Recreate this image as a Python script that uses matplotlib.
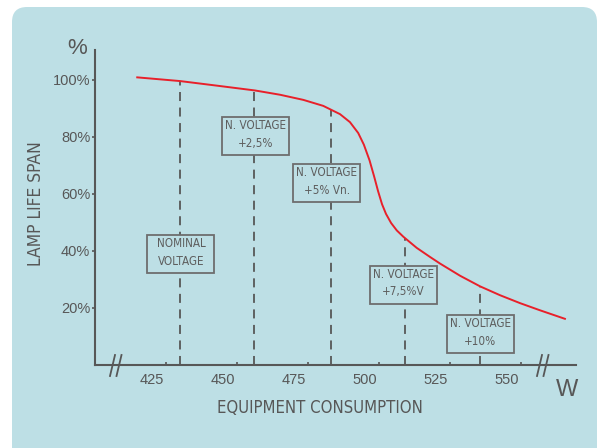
import numpy as np
import matplotlib
matplotlib.use("Agg")
import matplotlib.pyplot as plt
from matplotlib.patches import FancyBboxPatch, Rectangle

# ---- data ----
curve_w = [419.8, 434.9, 447.8, 461.3, 470.1, 478.3, 485.3, 491.2, 494.7, 497.6,
           499.6, 501.6, 503.2, 504.6, 506.0, 507.4, 509.2, 511.2, 513.5, 518.2,
           522.9, 526.4, 533.5, 540.5, 547.5, 554.6, 561.6, 570.4]
curve_life = [100.9, 99.6, 98.0, 96.3, 94.8, 93.0, 90.9, 88.0, 85.2, 81.4,
              77.3, 71.8, 66.2, 61.0, 56.4, 53.0, 49.8, 47.2, 45.0, 41.1,
              37.9, 35.6, 31.3, 27.6, 24.5, 21.7, 19.2, 16.2]
marker_w = [435, 461, 488, 514, 540.5]
box_labels = ["NOMINAL\nVOLTAGE", "N. VOLTAGE\n+2,5%", "N. VOLTAGE\n+5% Vn.",
              "N. VOLTAGE\n+7,5%V", "N. VOLTAGE\n+10%"]
box_x = [435.2, 461.4, 486.6, 513.4, 540.5]
box_y = [38.9, 80.4, 63.9, 28.2, 10.9]
xtick_vals = [425, 450, 475, 500, 525, 550]
xminor_vals = [430, 455, 480, 505, 530, 555]
ytick_vals = [20, 40, 60, 80, 100]

REG = ["Liberation Sans", "DejaVu Sans"]
NAR = ["Liberation Sans Narrow", "DejaVu Sans"]

BG = "#bddfe5"
GRAY = "#575757"
TXT2 = "#5e5e5e"
EDGE = "#6e6e6e"
RED = "#e8202a"

W, H = 602, 448
fig = plt.figure(figsize=(W / 100, H / 100), dpi=100)
fig.patch.set_facecolor("white")

panel = FancyBboxPatch((12 / W, -0.05), (597 - 12) / W, (448 - 7) / H + 0.05,
                       boxstyle="round,pad=0,rounding_size=0.025",
                       transform=fig.transFigure, facecolor=BG, edgecolor="none",
                       mutation_aspect=W / H, zorder=-10)
fig.patches.append(panel)

ax = fig.add_axes([95 / W, (H - 365) / H, (576 - 95) / W, 315 / H])
ax.set_zorder(1)
ax.set_facecolor("none")
ax.set_xlim(404.93, 574.3)
ax.set_ylim(0, 110.5)
for s in ["top", "right"]:
    ax.spines[s].set_visible(False)
for s in ["left", "bottom"]:
    ax.spines[s].set_color(GRAY)
    ax.spines[s].set_linewidth(1.5)

ax.set_xticks(xtick_vals)
ax.set_xticklabels([str(v) for v in xtick_vals], family=REG, fontsize=10.5, color=GRAY)
ax.tick_params(axis="x", which="major", length=0, pad=6)
ax.set_xticks(xminor_vals, minor=True)
ax.tick_params(axis="x", which="minor", direction="in", length=2.5, width=1.2, color=GRAY)

ax.set_yticks(ytick_vals)
ax.set_yticklabels([f"{v}%" for v in ytick_vals], family=REG, fontsize=10.5, color=GRAY)
ax.tick_params(axis="y", length=2, width=1.2, color=GRAY, pad=1.5)

# dashed voltage markers
for xv in marker_w:
    top = np.interp(xv, curve_w, curve_life)
    ax.plot([xv, xv], [0, top], color=GRAY, lw=1.3, ls=(0, (5, 3.6)), zorder=2)

ax.plot(curve_w, curve_life, color=RED, lw=1.4, zorder=4, solid_joinstyle="round")

# label boxes: 67 x 38 px
bw = 67 / 2.84
bh = 38 * 0.35088
for xv, yv, lab in zip(box_x, box_y, box_labels):
    ax.add_patch(Rectangle((xv - bw / 2, yv - bh / 2), bw, bh, facecolor=BG,
                           edgecolor=EDGE, lw=1.3, zorder=5))
    ax.text(xv, yv + 0.5, lab, ha="center", va="center", fontsize=8.4, color=TXT2,
            family=NAR, fontstretch="condensed", linespacing=1.45, zorder=6)

# axis break marks
t = fig.transFigure
for px in (110, 537):
    for dx in (0, 6.5):
        x0 = px + dx
        fig.add_artist(plt.Line2D([x0 / W, (x0 + 5) / W], [(H - 376) / H, (H - 355) / H],
                                  transform=t, color=GRAY, lw=1.3, zorder=5))

fig.text(77 / W, 1 - 48 / H, "%", ha="center", va="center", fontsize=16, color=GRAY, family=REG)
fig.text(567 / W, 1 - 390 / H, "W", ha="center", va="center", fontsize=17, color=GRAY, family=REG)
fig.text(36 / W, 1 - 204 / H, "LAMP LIFE SPAN", rotation=90, ha="center", va="center",
         fontsize=12.5, color=GRAY, family=NAR, fontstretch="condensed")
fig.text(320 / W, 1 - 408 / H, "EQUIPMENT CONSUMPTION", ha="center", va="center",
         fontsize=12, color=GRAY, family=NAR, fontstretch="condensed")

fig.savefig("out.png", dpi=100, facecolor="white")
